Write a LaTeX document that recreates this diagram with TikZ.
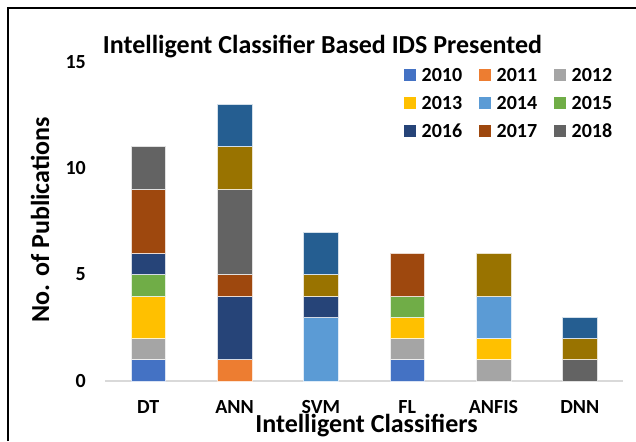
\documentclass[tikz,border=0pt]{standalone}
\usepackage{fontspec}
\setmainfont{Carlito}
\definecolor{cA}{HTML}{4472C4}
\definecolor{cB}{HTML}{ED7D31}
\definecolor{cC}{HTML}{A5A5A5}
\definecolor{cD}{HTML}{FFC000}
\definecolor{cE}{HTML}{5B9BD5}
\definecolor{cF}{HTML}{70AD47}
\definecolor{cG}{HTML}{264478}
\definecolor{cH}{HTML}{9E480E}
\definecolor{cI}{HTML}{636363}
\definecolor{cJ}{HTML}{997300}
\definecolor{cK}{HTML}{255E91}
\definecolor{axisgray}{HTML}{D9D9D9}
\newcommand\barseg[4]{\fill[#4] ({#1-17.25},{381-21.3*#2}) rectangle ({#1+17.25},{381-21.3*#3});
  \draw[white!80!#4, line width=0.5pt] ({#1-17.25},{381-21.3*#2}) rectangle ({#1+17.25},{381-21.3*#3});}
\begin{document}
\begin{tikzpicture}[x=1pt,y=-1pt,
  ttl/.style={font=\bfseries\fontsize{26}{30}\selectfont, inner sep=0pt, anchor=base},
  leg/.style={font=\bfseries\fontsize{20}{24}\selectfont, inner sep=0pt, anchor=west},
  tick/.style={font=\bfseries\fontsize{20}{24}\selectfont, inner sep=0pt, anchor=east},
  cat/.style={font=\bfseries\fontsize{20}{24}\selectfont, inner sep=0pt, anchor=base},
  axt/.style={font=\bfseries\fontsize{26}{30}\selectfont, inner sep=0pt}]
\useasboundingbox (0,0) rectangle (636,441);
\fill[white] (0,0) rectangle (636,441);
\draw[line width=1.6pt] (8,441) -- (8,8) -- (636,8);
% axis
\draw[axisgray, line width=1.2pt] (105,381) -- (623,381);
% DT
\barseg{148.2}{0}{1}{cA}
\barseg{148.2}{1}{2}{cC}
\barseg{148.2}{2}{4}{cD}
\barseg{148.2}{4}{5}{cF}
\barseg{148.2}{5}{6}{cG}
\barseg{148.2}{6}{9}{cH}
\barseg{148.2}{9}{11}{cI}
% ANN
\barseg{234.5}{0}{1}{cB}
\barseg{234.5}{1}{4}{cG}
\barseg{234.5}{4}{5}{cH}
\barseg{234.5}{5}{9}{cI}
\barseg{234.5}{9}{11}{cJ}
\barseg{234.5}{11}{13}{cK}
% SVM
\barseg{320.8}{0}{3}{cE}
\barseg{320.8}{3}{4}{cG}
\barseg{320.8}{4}{5}{cJ}
\barseg{320.8}{5}{7}{cK}
% FL
\barseg{407.2}{0}{1}{cA}
\barseg{407.2}{1}{2}{cC}
\barseg{407.2}{2}{3}{cD}
\barseg{407.2}{3}{4}{cF}
\barseg{407.2}{4}{6}{cH}
% ANFIS
\barseg{493.5}{0}{1}{cC}
\barseg{493.5}{1}{2}{cD}
\barseg{493.5}{2}{4}{cE}
\barseg{493.5}{4}{6}{cJ}
% DNN
\barseg{579.8}{0}{1}{cI}
\barseg{579.8}{1}{2}{cJ}
\barseg{579.8}{2}{3}{cK}
% ticks
\node[tick] (t0) at (86,381) {0};
\node[tick] (t5) at (86,274.5) {5};
\node[tick] (t10) at (86,168) {10};
\node[tick] (t15) at (86,62.5) {15};
% title
\node[ttl] (title) at (322.5,54) {Intelligent Classifier Based IDS Presented};
% legend
\foreach \c/\t/\x/\y in {cA/2010/404/75, cB/2011/479/75, cC/2012/554/75,
  cD/2013/404/103, cE/2014/479/103, cF/2015/554/103,
  cG/2016/404/131, cH/2017/479/131, cI/2018/554/131}{
  \fill[\c] (\x,\y-6) rectangle (\x+12,\y+6);
  \node[leg] (leg\t) at (\x+17.5,\y) {\t};
}
% categories
\node[cat] (cDT) at (148.2,413.5) {DT};
\node[cat] (cANN) at (234.5,413.5) {ANN};
\node[cat] (cSVM) at (320.8,413.5) {SVM};
\node[cat] (cFL) at (407.2,413.5) {FL};
\node[cat] (cANFIS) at (493.5,413.5) {ANFIS};
\node[cat] (cDNN) at (579.8,413.5) {DNN};
% axis titles
\node[axt, anchor=base] (xt) at (366.5,432.5) {Intelligent Classifiers};
\node[axt, rotate=90] (yt) at (40,220) {No. of Publications};
\end{tikzpicture}
\end{document}
